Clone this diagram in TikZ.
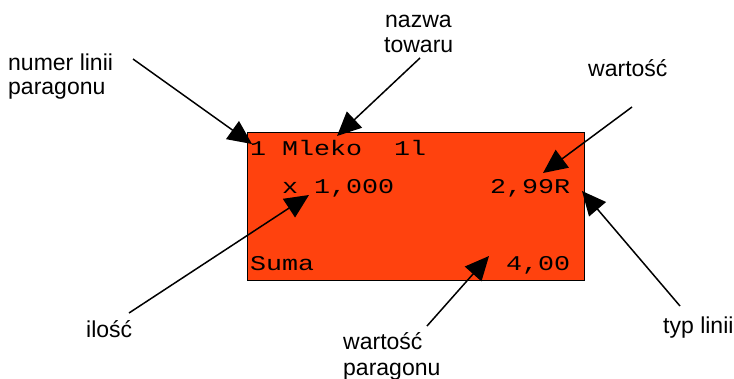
\documentclass[tikz,border=0pt]{standalone}
\usepackage{fontspec}
\setmainfont{Liberation Sans}
\newfontfamily\rmono[FakeStretch=1.27]{Liberation Mono}
\usetikzlibrary{arrows.meta}
\definecolor{boxfill}{HTML}{FF420E}
\begin{document}
\begin{tikzpicture}[x=1pt,y=-1pt,
  lbl/.style={anchor=base west, inner sep=0pt, font=\fontsize{23}{24}\selectfont},
  mono/.style={anchor=base west, inner sep=0pt, font=\fontsize{21}{24}\rmono},
  ptr/.style={line width=1.5pt, -{Triangle[length=24pt,width=22pt]}}]
\useasboundingbox (0,0) rectangle (734,378);
% receipt box
\node[draw=black, line width=1pt, fill=boxfill, minimum width=337pt, minimum height=148pt,
      inner sep=0pt, anchor=north west] (box) at (247,132) {};
\node[mono] (line1) at (250,155.5) {1 Mleko~~1l};
\node[mono] (qty) at (282,193) {x 1,000};
\node[mono] (price) at (490,193) {2,99R};
\node[mono] (suma) at (250,270) {Suma};
\node[mono] (total) at (506,270) {4,00};
% labels
\node[lbl] (numA) at (8,70) {numer linii};
\node[lbl] (numB) at (8,94) {paragonu};
\node[lbl] (nazA) at (385,27) {nazwa};
\node[lbl] (nazB) at (384,52) {towaru};
\node[lbl] (wart) at (588,76) {wartość};
\node[lbl] (ilosc) at (86,337) {ilość};
\node[lbl] (wpA) at (343,349) {wartość};
\node[lbl] (wpB) at (343,375) {paragonu};
\node[lbl] (typ) at (663,333) {typ linii};
% arrow ends
\coordinate (s1) at (133,59);  \coordinate (t1) at (252,144);
\coordinate (s2) at (420,58);  \coordinate (t2) at (337,136);
\coordinate (s3) at (632,107); \coordinate (t3) at (543,173);
\coordinate (s4) at (129,313); \coordinate (t4) at (309,195);
\coordinate (s5) at (427,326); \coordinate (t5) at (489,256);
\coordinate (s6) at (680,306); \coordinate (t6) at (582,191);
\draw[ptr] (s1) -- (t1);
\draw[ptr] (s2) -- (t2);
\draw[ptr] (s3) -- (t3);
\draw[ptr] (s4) -- (t4);
\draw[ptr] (s5) -- (t5);
\draw[ptr] (s6) -- (t6);
\end{tikzpicture}
\end{document}
